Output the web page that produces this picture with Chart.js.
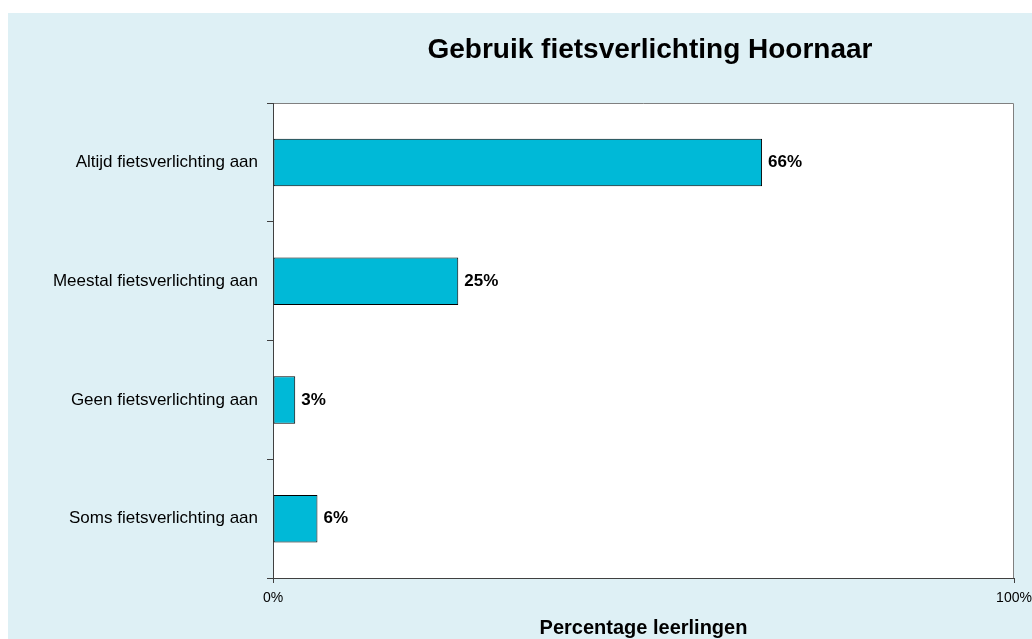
<!DOCTYPE html>
<html>
<head>
<meta charset="utf-8">
<script src="https://cdn.jsdelivr.net/npm/chart.js@4"></script>
<style>
  body { margin: 0; background: #ffffff; }
  canvas { display: block; }
</style>
</head>
<body>
<canvas id="grafiek" width="1032" height="639"></canvas>
<script>
const categorieen = [
    'Altijd fietsverlichting aan',
    'Meestal fietsverlichting aan',
    'Geen fietsverlichting aan',
    'Soms fietsverlichting aan'
];
const percentages = [66, 25, 3, 6];
const asTicks = [0, 100];
const titel = 'Gebruik fietsverlichting Hoornaar';
const asTitel = 'Percentage leerlingen';

const lettertype = "'Liberation Sans', Arial, sans-serif";

// achtergrond, wit plotvlak en grijze rand boven/rechts
const achtergrondPlugin = {
    id: 'achtergrond',
    beforeDraw(chart) {
        const ctx = chart.ctx;
        const a = chart.chartArea;
        ctx.save();
        ctx.fillStyle = '#ffffff';
        ctx.fillRect(0, 0, chart.width, chart.height);
        ctx.fillStyle = '#DEF0F5';
        ctx.fillRect(8, 13, chart.width - 8, chart.height - 13);
        ctx.fillStyle = '#ffffff';
        ctx.fillRect(a.left, a.top, a.right - a.left, a.bottom - a.top);
        ctx.strokeStyle = '#808080';
        ctx.lineWidth = 1;
        ctx.beginPath();
        ctx.moveTo(a.left, a.top + 0.5);
        ctx.lineTo(a.right - 0.5, a.top + 0.5);
        ctx.lineTo(a.right - 0.5, a.bottom);
        ctx.stroke();
        ctx.restore();
    },
    afterDraw(chart) {
        const ctx = chart.ctx;
        ctx.save();
        ctx.fillStyle = '#000000';
        ctx.font = 'bold 28px ' + lettertype;
        ctx.textAlign = 'center';
        ctx.textBaseline = 'middle';
        ctx.fillText(titel, 650, 50);
        ctx.restore();
    }
};

// percentages naast de balken
const labelPlugin = {
    id: 'waardeLabels',
    afterDatasetsDraw(chart) {
        const ctx = chart.ctx;
        const meta = chart.getDatasetMeta(0);
        ctx.save();
        ctx.fillStyle = '#000000';
        ctx.font = 'bold 17px ' + lettertype;
        ctx.textAlign = 'left';
        ctx.textBaseline = 'middle';
        meta.data.forEach((bar, i) => {
            ctx.fillText(percentages[i] + '%', bar.x + 6, bar.y);
        });
        ctx.restore();
    }
};

const ctx = document.getElementById('grafiek').getContext('2d');

new Chart(ctx, {
    type: 'bar',
    data: {
        labels: categorieen,
        datasets: [{
            data: percentages,
            backgroundColor: '#00B9D7',
            borderColor: '#000000',
            borderWidth: 1,
            borderSkipped: false,
            barPercentage: 0.4,
            categoryPercentage: 1
        }]
    },
    options: {
        indexAxis: 'y',
        responsive: false,
        animation: false,
        layout: {
            padding: { top: 103, right: 18, bottom: 0, left: 0 }
        },
        plugins: {
            legend: { display: false },
            tooltip: { enabled: false }
        },
        scales: {
            x: {
                min: asTicks[0],
                max: asTicks[asTicks.length - 1],
                afterBuildTicks(scale) {
                    scale.ticks = asTicks.map(v => ({ value: v }));
                },
                afterFit(scale) {
                    scale.height = 61;
                    scale.paddingLeft = 0;
                    scale.paddingRight = 0;
                },
                ticks: {
                    padding: 7,
                    color: '#000000',
                    font: { family: lettertype, size: 14 },
                    callback: v => v + '%'
                },
                grid: {
                    drawOnChartArea: false,
                    tickLength: 5,
                    color: '#404040'
                },
                border: { color: '#404040', width: 1 },
                title: {
                    display: true,
                    text: asTitel,
                    color: '#000000',
                    font: { family: lettertype, size: 20, weight: 'bold', lineHeight: 1.1 },
                    padding: { top: 0, bottom: 0 }
                }
            },
            y: {
                afterFit(scale) { scale.width = 273; },
                ticks: {
                    padding: 9,
                    color: '#000000',
                    font: { family: lettertype, size: 17 }
                },
                grid: {
                    drawOnChartArea: false,
                    tickLength: 6,
                    color: '#404040'
                },
                border: { color: '#404040', width: 1 }
            }
        }
    },
    plugins: [achtergrondPlugin, labelPlugin]
});
</script>
</body>
</html>
